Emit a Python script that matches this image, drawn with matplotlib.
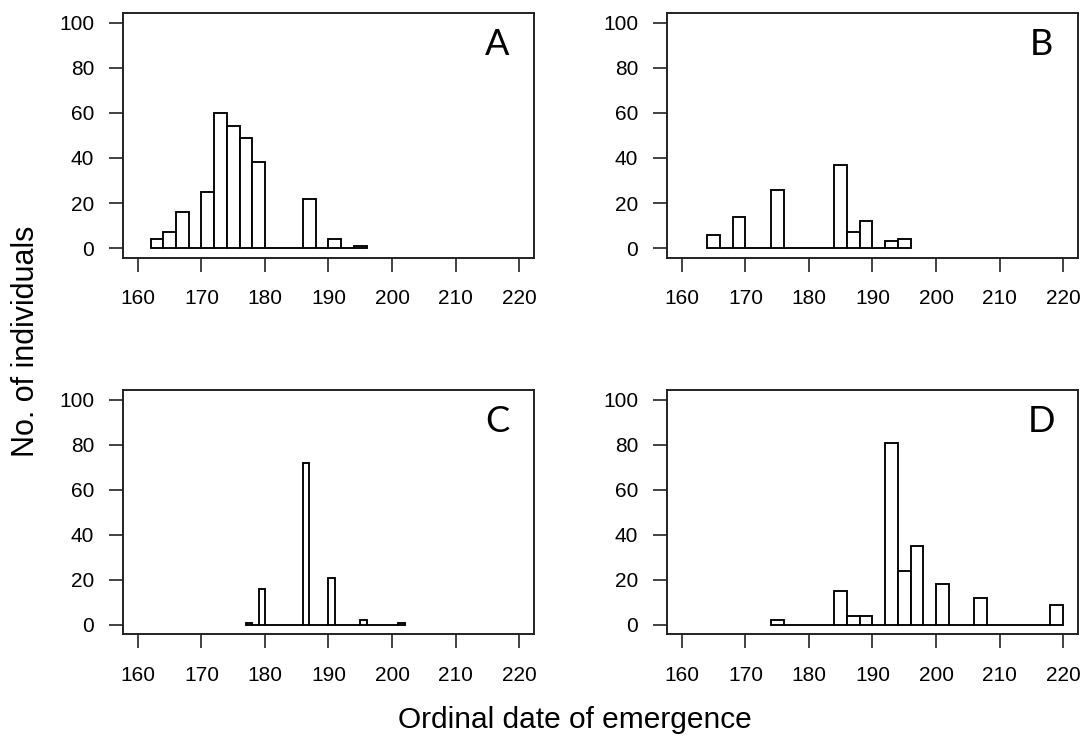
import matplotlib
matplotlib.use("Agg")
import matplotlib.pyplot as plt

# Emergence counts per ordinal-date bin for the four groups
a_start, a_width = 162, 2
a_counts = [4, 7, 16, 0, 25, 60, 54, 49, 38, 0, 0, 0, 22, 0, 4, 0, 1]

b_start, b_width = 164, 2
b_counts = [6, 0, 14, 0, 0, 26, 0, 0, 0, 0, 37, 7, 12, 0, 3, 4]

c_start, c_width = 177, 1
c_counts = [1, 0, 16, 0, 0, 0, 0, 0, 0, 72, 0, 0, 0, 21, 0, 0, 0, 0, 2,
            0, 0, 0, 0, 0, 1]

d_start, d_width = 174, 2
d_counts = [2, 0, 0, 0, 0, 15, 4, 4, 0, 81, 24, 35, 0, 18, 0, 0, 12, 0, 0,
            0, 0, 0, 9]

panel_letters = ["A", "B", "C", "D"]
x_ticks = [160, 170, 180, 190, 200, 210, 220]
y_ticks = [0, 20, 40, 60, 80, 100]

panels = [
    (a_start, a_width, a_counts),
    (b_start, b_width, b_counts),
    (c_start, c_width, c_counts),
    (d_start, d_width, d_counts),
]

W, H = 1084, 745
fig = plt.figure(figsize=(W / 100, H / 100), dpi=100)

# axes boxes in pixel units: left, top, right, bottom
boxes = [
    (122.7, 12.7, 534.3, 257.7),
    (666.7, 12.7, 1078.3, 257.7),
    (122.7, 390.0, 534.3, 634.3),
    (666.7, 390.0, 1078.3, 634.3),
]

tick_font = dict(family="Liberation Sans", size=15)

for (start, width, counts), letter, (l, t, r, b) in zip(panels, panel_letters, boxes):
    ax = fig.add_axes([l / W, (H - b) / H, (r - l) / W, (b - t) / H])
    lefts = [start + i * width for i in range(len(counts))]
    ax.bar(lefts, counts, width=width, align="edge", facecolor="white",
           edgecolor="black", linewidth=1.35)
    ax.set_xlim(157.6, 222.4)
    ax.set_ylim(-4.2, 104.4)
    ax.set_xticks(x_ticks)
    ax.set_yticks(y_ticks)
    ax.set_xticklabels([str(v) for v in x_ticks], **tick_font)
    ax.set_yticklabels([str(v) for v in y_ticks], **tick_font)
    ax.tick_params(direction="out", length=10, width=1.2, color="#222222")
    ax.tick_params(axis="x", pad=12.5)
    ax.tick_params(axis="y", pad=10.5)
    for sp in ax.spines.values():
        sp.set_linewidth(1.4)
        sp.set_color("#222222")
    ax.text(0.91, 0.871, letter, transform=ax.transAxes, ha="center",
            va="center", family="Lato", fontsize=26, color="black")

fig.text(575 / W, 1 - 720 / H, "Ordinal date of emergence", ha="center",
         va="center", family="Liberation Sans", fontsize=21.5)
fig.text(26 / W, 1 - 341 / H, "No. of individuals", ha="center",
         va="center", rotation=90, family="Liberation Sans", fontsize=22)

fig.savefig("out.png", dpi=100)
